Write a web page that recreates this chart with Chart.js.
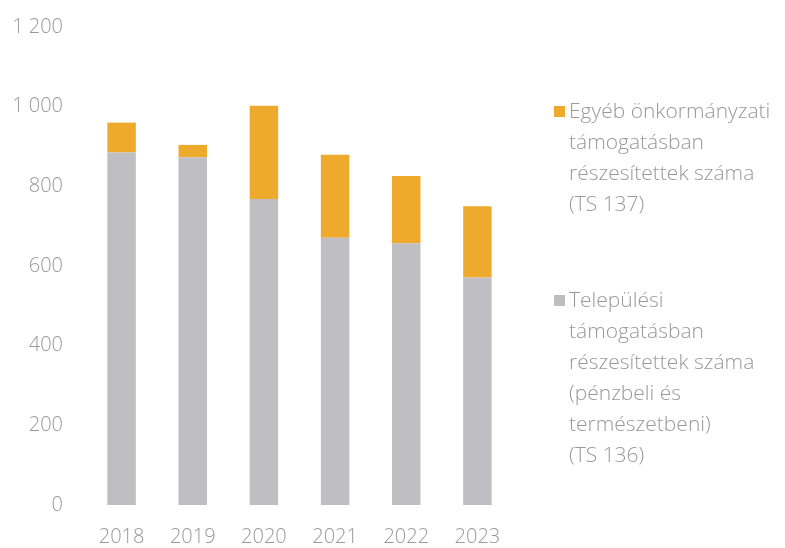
<!DOCTYPE html>
<html>
<head>
<meta charset="utf-8">
<script src="https://cdn.jsdelivr.net/npm/chart.js@4"></script>
<style>
  html, body { margin: 0; padding: 0; background: #fff; }
  #wrap { width: 785px; height: 548px; }
</style>
</head>
<body>
<div id="wrap"><canvas id="grafikon" width="785" height="548"></canvas></div>
<script>
const evek = ['2018', '2019', '2020', '2021', '2022', '2023'];
const telepulesi = [885, 873, 768, 671, 657, 571];
const egyeb = [75, 31, 234, 208, 169, 179];
const yTicks = [0, 200, 400, 600, 800, 1000, 1200];

const legendSorok = [
  { color: '#EEAA2C', lines: ['Egyéb önkormányzati', 'támogatásban', 'részesítettek száma', '(TS 137)'], y: 112 },
  { color: '#BDBDC2', lines: ['Települési', 'támogatásban', 'részesítettek száma', '(pénzbeli és', 'természetbeni)', '(TS 136)'], y: 301 }
];

const szurke = '#999999';
const betu = '"Open Sans", sans-serif';

const sajatLegend = {
  id: 'sajatLegend',
  afterDraw(chart) {
    const ctx = chart.ctx;
    ctx.save();
    ctx.font = '300 21px ' + betu;
    ctx.textBaseline = 'middle';
    legendSorok.forEach(item => {
      ctx.fillStyle = item.color;
      ctx.fillRect(554, item.y - 6, 11, 11);
      ctx.fillStyle = szurke;
      item.lines.forEach((sor, i) => {
        ctx.fillText(sor, 569, item.y + i * 31);
      });
    });
    ctx.restore();
  }
};

const ctx = document.getElementById('grafikon');
const grafikon = new Chart(ctx, {
  type: 'bar',
  data: {
    labels: evek,
    datasets: [
      { label: 'Települési támogatásban részesítettek száma (pénzbeli és természetbeni) (TS 136)', data: telepulesi, backgroundColor: '#BEBEC3', categoryPercentage: 1, barPercentage: 0.4 },
      { label: 'Egyéb önkormányzati támogatásban részesítettek száma (TS 137)', data: egyeb, backgroundColor: '#EEAA2C', categoryPercentage: 1, barPercentage: 0.4 }
    ]
  },
  options: {
    responsive: false,
    animation: false,
    layout: { padding: { top: 17, right: 272, left: 0, bottom: 0 } },
    plugins: { legend: { display: false }, tooltip: { enabled: false } },
    scales: {
      x: {
        stacked: true,
        grid: { display: false },
        border: { display: false },
        ticks: { color: szurke, font: { family: betu, size: 20, weight: 300 }, padding: 12 },
        afterFit: s => { s.height = 43; }
      },
      y: {
        stacked: true,
        min: 0,
        max: 1200,
        grid: { display: false },
        border: { display: false },
        afterBuildTicks: s => { s.ticks = yTicks.map(v => ({ value: v })); },
        ticks: {
          color: szurke,
          font: { family: betu, size: 20, weight: 300 },
          padding: 15,
          callback: v => v >= 1000 ? Math.floor(v / 1000) + ' ' + String(v % 1000).padStart(3, '0') : String(v)
        },
        afterFit: s => { s.width = 86; }
      }
    }
  },
  plugins: [sajatLegend]
});
</script>
</body>
</html>
